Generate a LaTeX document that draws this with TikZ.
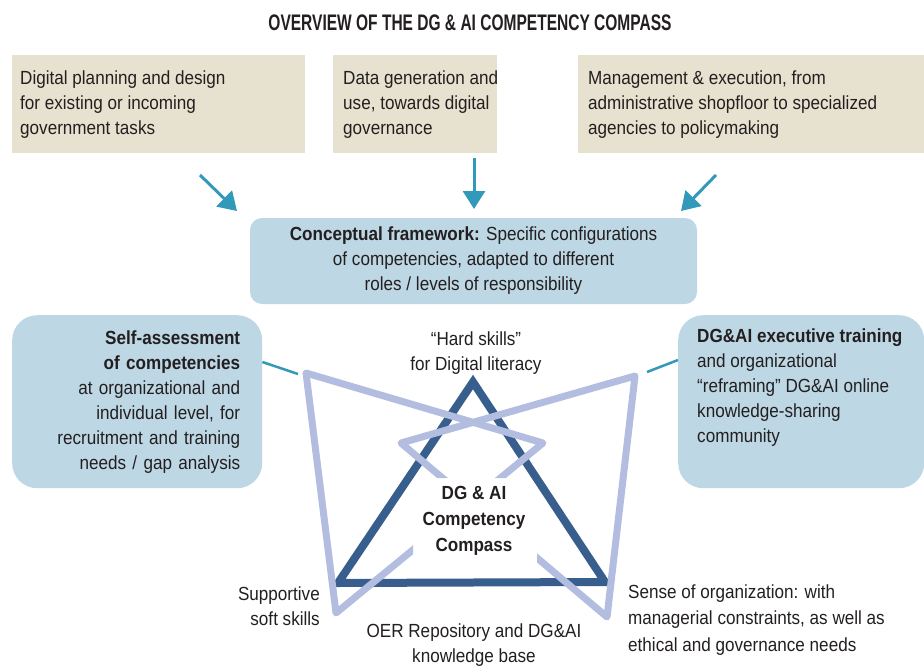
\documentclass[tikz,border=0pt]{standalone}
\usepackage{fontspec}
\setmainfont{Liberation Sans}[FakeStretch=0.9]
\newfontfamily\titlefont{Liberation Sans}[FakeStretch=0.69]
\usetikzlibrary{arrows.meta,calc}
\definecolor{beige}{HTML}{E6E2CF}
\definecolor{boxblue}{HTML}{BDD7E4}
\definecolor{darkb}{HTML}{375E8C}
\definecolor{lavender}{HTML}{B3BDDF}
\definecolor{tealc}{HTML}{3399BB}
\definecolor{txt}{HTML}{231F20}
\tikzset{
  topbox/.style={fill=beige, anchor=north west, minimum height=98pt, inner sep=0pt},
  softbox/.style={fill=boxblue, rounded corners=25pt, anchor=north west, minimum height=173pt},
  arr/.style={draw=tealc, line width=3pt, -{Triangle[length=18pt,width=22pt]}},
  link/.style={draw=tealc, line width=2.5pt},
  lav/.style={draw=lavender, line width=7pt, line join=round},
  darktri/.style={draw=darkb, line width=8pt, line join=miter},
  lbl/.style={inner sep=0pt}
}
\begin{document}
\begin{tikzpicture}[x=1pt,y=-1pt, font=\fontsize{19}{25}\selectfont, every node/.append style={text=txt}]
\useasboundingbox (0,0) rectangle (924,667);
% title
\node[lbl, font=\titlefont\bfseries\fontsize{22.5}{25}\selectfont] (title) at (470,23) {OVERVIEW OF THE DG \& AI COMPETENCY COMPASS};
% top boxes
\node[topbox, minimum width=293pt] (b1) at (12,55) {};
\node[topbox, minimum width=164pt] (b2) at (333,55) {};
\node[topbox, minimum width=346pt] (b3) at (578,55) {};
\node[lbl, anchor=west, align=left] (t1) at (20,105) {Digital planning and design\\for existing or incoming\\government tasks};
\node[lbl, anchor=west, align=left] (t2) at (343,105) {Data generation and\\use, towards digital\\governance};
\node[lbl, anchor=west, align=left] (t3) at (588,105) {Management \& execution, from\\administrative shopfloor to specialized\\agencies to policymaking};
% arrows
\coordinate (a1s) at (200,175); \coordinate (a1e) at (237,211);
\coordinate (a2s) at (474,158); \coordinate (a2e) at (474,209);
\coordinate (a3s) at (716,175); \coordinate (a3e) at (681,211);
\draw[arr] (a1s) -- (a1e);
\draw[arr] (a2s) -- (a2e);
\draw[arr] (a3s) -- (a3e);
% conceptual framework
\node[fill=boxblue, rounded corners=12pt, minimum width=447pt, minimum height=86pt, align=center, inner sep=0pt] (cf) at (473.5,261)
  {\textbf{Conceptual framework:} Specific configurations\\of competencies, adapted to different\\roles / levels of responsibility};
% side boxes
\node[softbox, minimum width=250pt, text width=206pt, inner xsep=22pt, align=right] (selfbox) at (12,315)
  {\textbf{Self-assessment}\\\textbf{of competencies}\\at organizational and\\individual level, for\\recruitment and training\\needs / gap analysis};
\node[softbox, minimum width=246pt] (execbox) at (678,315) {};
\node[lbl, anchor=north west, align=left] (exectext) at (697,329)
  {\textbf{DG\&AI executive training}\\and organizational\\“reframing” DG\&AI online\\knowledge-sharing\\community};
% connectors
\coordinate (sEnd) at (298,374);
\coordinate (eEnd) at (647,372);
\draw[link] ($(selfbox.north east)+(0,47)$) -- (sEnd);
\draw[link] ($(execbox.north west)+(0,45)$) -- (eEnd);
% dark triangle
\coordinate (apex) at (473,382);
\coordinate (dBL) at (338,583);
\coordinate (dBR) at (605,582);
\draw[darktri] (apex) -- (dBL) -- (dBR) -- cycle;
% lavender figure, cut round the central title
\coordinate (TL) at (306,373);
\coordinate (BL) at (336,613);
\coordinate (tipR) at (543,443);
\coordinate (TR) at (635,376);
\coordinate (BR) at (607,617);
\coordinate (tipL) at (401,443);
\begin{scope}
  \clip (0,0) -- (924,0) -- (924,667) -- (537,667) -- (537,478) -- (413,478) -- (413,667) -- (0,667) -- cycle;
  \draw[lav] (tipR) -- (TL) -- (BL) -- cycle;
  \draw[lav] (tipL) -- (TR) -- (BR) -- cycle;
\end{scope}
% labels
\node[lbl, align=center] (hard) at (476,353) {“Hard skills”\\for Digital literacy};
\node[lbl, align=center, font=\bfseries\fontsize{19}{26}\selectfont] (core) at (474,521) {DG \& AI\\Competency\\Compass};
\node[lbl, align=right, anchor=east] (soft) at (320,606) {Supportive\\soft skills};
\node[lbl, align=center] (oer) at (474,645) {OER Repository and DG\&AI\\knowledge base};
\node[lbl, align=left, anchor=west, font=\fontsize{19}{26.5}\selectfont] (sense) at (628,620) {Sense of organization: with\\managerial constraints, as well as\\ethical and governance needs};
\end{tikzpicture}
\end{document}
